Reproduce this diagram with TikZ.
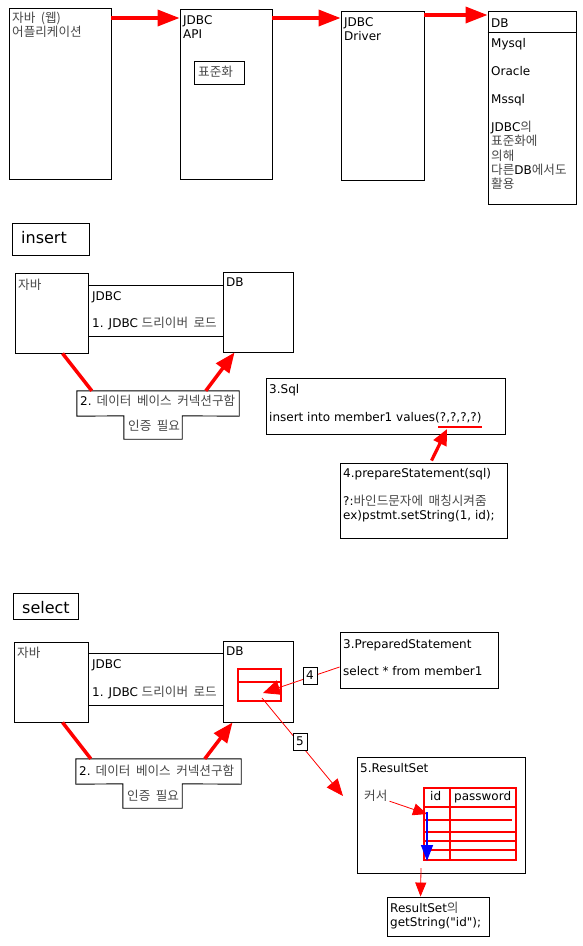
\documentclass[tikz,border=0pt]{standalone}
\usepackage{fontspec}
\setmainfont{DejaVu Sans}
\newfontfamily\krfont{Noto Sans CJK KR}
\newfontfamily\qfont[Ligatures=ResetAll]{DejaVu Sans}
\newcommand\K[1]{{\krfont\fontsize{12.6}{14}\selectfont\spaceskip=5.5pt\color{black!72}#1}}
\usetikzlibrary{arrows.meta,fit}
\begin{document}
\begin{tikzpicture}[x=1pt,y=-1pt,
  box/.style={draw=black, line width=0.9pt, inner sep=0pt},
  plain/.style={inner sep=0pt},
  blk/.style={draw=black, line width=0.9pt},
  txt/.style={anchor=base west, inner sep=0pt, font=\fontsize{12}{14}\selectfont},
  ttl/.style={anchor=base west, inner sep=0pt, font=\fontsize{16}{18}\selectfont},
  lbl/.style={draw=black, line width=0.9pt, fill=white, minimum width=14pt, minimum height=17pt, inner sep=0pt, font=\fontsize{12}{14}\selectfont},
  redbox/.style={draw=red, line width=1.2pt, inner sep=0pt},
  redline/.style={draw=red, line width=1.2pt},
  bigarrow/.style={draw=red, line width=3.5pt, -{Triangle[length=22pt,width=16pt]}},
  redthick/.style={draw=red, line width=3.5pt},
  redthin/.style={draw=red, line width=0.8pt},
]
\useasboundingbox (0,0) rectangle (583,946);

% ---------- top row ----------
\node[box, fit={(9,8)(111,179)}] (app) {};
\node[txt] (appt1) at (12,22) {\K{자바 (웹)}};
\node[txt] (appt2) at (12,36) {\K{어플리케이션}};

\node[box, fit={(180,9)(272,179)}] (api) {};
\node[txt] (apit1) at (183,24) {JDBC};
\node[txt] (apit2) at (183,38) {API};
\node[box, fit={(194,61)(244,84)}] (std) {};
\node[txt] (stdt) at (198,76) {\K{표준화}};

\node[box, fit={(341,11)(424,180)}] (drv) {};
\node[txt] (drvt1) at (344,26) {JDBC};
\node[txt] (drvt2) at (344,40) {Driver};

\node[box, fit={(488,11)(576,204)}] (db) {};
\draw[blk] (db.west |- 0,32) -- (db.east |- 0,32);
\node[txt] (dbt0) at (491,27) {DB};
\node[txt] (dbt1) at (491,47) {Mysql};
\node[txt] (dbt2) at (491,75) {Oracle};
\node[txt] (dbt3) at (491,103) {Mssql};
\node[txt] (dbt4) at (491,131) {JDBC\K{의}};
\node[txt] (dbt5) at (491,145.5) {\K{표준화에}};
\node[txt] (dbt6) at (491,160) {\K{의해}};
\node[txt] (dbt7) at (491,174) {\K{다른}DB\K{에서도}};
\node[txt] (dbt8) at (491,188.5) {\K{활용}};

\draw[bigarrow] (app.east |- 0,18) -- (api.west |- 0,18);
\draw[bigarrow] (api.east |- 0,18) -- (drv.west |- 0,18);
\draw[bigarrow] (drv.east |- 0,15) -- (db.west |- 0,15);

% ---------- insert ----------
\node[box, fit={(12,223)(89,255)}] (ins) {};
\node[ttl] (inst) at (21,243) {insert};

\node[box, fit={(15,273)(88,353)}] (ij) {};
\node[txt] (ijt) at (18,289) {\K{자바}};
\node[box, fit={(223,272)(293,352)}] (idb) {};
\node[txt] (idbt) at (226,286) {DB};
\draw[blk] (ij.east |- 0,285) -- (idb.west |- 0,285);
\draw[blk] (ij.east |- 0,336) -- (idb.west |- 0,336);
\node[txt] (ijdbc) at (92,300) {JDBC};
\node[txt] (iload) at (92,327) {1. JDBC \K{드리이버 로드}};

\node[plain, fit={(77,391)(239,416)}] (iw) {};
\node[plain, fit={(124,416)(182,439)}] (in) {};
\draw[blk] (iw.south west) -- (iw.north west) -- (iw.north east) -- (iw.south east)
  -- (in.north east) -- (in.south east) -- (in.south west) -- (in.north west) -- cycle;
\node[txt] (iwt) at (80,405) {2. \K{데이터 베이스 커넥션구함}};
\node[txt] (int) at (128,430) {\K{인증 필요}};
\draw[redthick] ([xshift=48pt]ij.south west) -- ([xshift=15pt]iw.north west);
\draw[bigarrow, -{Triangle[length=20pt,width=16pt]}] ([xshift=129pt]iw.north west) -- ([xshift=12pt]idb.south west);

\node[box, fit={(266,378)(505,434)}] (sql) {};
\node[txt] (sqlt1) at (269,393) {3.Sql};
\node[txt] (sqlt2) at (269,421) {insert into member1 values(?,?,?,?)};
\coordinate (ul1) at (438,427);
\coordinate (ul2) at (482,427);
\draw[draw=red, line width=2.5pt] (ul1) -- (ul2);
\coordinate (ultip) at (447,429);

\node[box, fit={(340,463)(507,538)}] (prep) {};
\node[txt] (prept1) at (343,477) {4.prepareStatement(sql)};
\node[txt] (prept2) at (343,505) {?:\K{바인드문자에 매칭시켜줌}};
\node[txt] (prept3) at (343,519) {ex)pstmt.setString(1, id);};
\draw[draw=red, line width=3.2pt, -{Triangle[length=16pt,width=14pt]}] ([xshift=92pt,yshift=2pt]prep.north west) -- (ultip);

% ---------- select ----------
\node[box, fit={(13,593)(78,619)}] (sel) {};
\node[ttl] (selt) at (22,613) {select};

\node[box, fit={(14,642)(88,722)}] (sj) {};
\node[txt] (sjt) at (17,657) {\K{자바}};
\node[box, fit={(223,641)(293,722)}] (sdb) {};
\node[txt] (sdbt) at (226,655) {DB};
\draw[blk] (sj.east |- 0,653) -- (sdb.west |- 0,653);
\draw[blk] (sj.east |- 0,705) -- (sdb.west |- 0,705);
\node[txt] (sjdbc) at (92,668) {JDBC};
\node[txt] (sload) at (92,696) {1. JDBC \K{드리이버 로드}};

\node[plain, fit={(76,759)(241,784)}] (sw) {};
\node[plain, fit={(123,784)(182,808)}] (sn) {};
\draw[blk] (sw.south west) -- (sw.north west) -- (sw.north east) -- (sw.south east)
  -- (sn.north east) -- (sn.south east) -- (sn.south west) -- (sn.north west) -- cycle;
\node[txt] (swt) at (79,775) {2. \K{데이터 베이스 커넥션구함}};
\node[txt] (snt) at (127,800) {\K{인증 필요}};
\draw[redthick] ([xshift=49pt]sj.south west) -- ([xshift=15pt]sw.north west);
\draw[bigarrow, -{Triangle[length=20pt,width=16pt]}] ([xshift=129pt]sw.north west) -- ([xshift=10pt]sdb.south west);

\node[redbox, fit={(238,669)(281,701)}] (stbl) {};
\draw[redline] (stbl.west |- 0,682) -- (stbl.east |- 0,682);

\node[box, fit={(340,632)(498,688)}] (ps) {};
\node[txt] (pst1) at (343,648) {3.PreparedStatement};
\node[txt] (pst2) at (343,675) {select * from member1};

\coordinate (t4) at (263,693);
\draw[redthin, -{Triangle[length=17pt,width=15pt]}] (ps.west |- 0,667) -- (t4);
\node[lbl] (l4) at (310,675.5) {4};

\coordinate (s5) at (262,698);
\coordinate (t5) at (343,796);
\draw[redthin, -{Triangle[length=17pt,width=14pt]}] (s5) -- (t5);
\node[lbl] (l5) at (300,741.5) {5};

\node[box, fit={(357,757)(525,873)}] (rs) {};
\node[txt] (rst) at (360,772) {5.ResultSet};
\node[redbox, fit={(424,788)(516,860)}] (rtbl) {};
\draw[redline] (450,788) -- (450,860);
\draw[redline] (424,807) -- (517,807);
\draw[redline] (424,820) -- (512,820);
\draw[redline] (424,832) -- (516,832);
\draw[redline] (424,841) -- (516,841);
\draw[redline] (424,850) -- (516,850);
\node[txt] (rid) at (430,800) {id};
\node[txt] (rpw) at (454,800) {password};
\node[txt] (cur) at (364,800) {\K{커서}};
\coordinate (curtip) at (427,814);
\draw[redthin, -{Triangle[length=14pt,width=12pt]}] ([xshift=2pt]cur.south east) -- (curtip);
\coordinate (bl1) at (427,812);
\coordinate (bl2) at (427,861);
\draw[draw=blue, line width=1.5pt, -{Triangle[length=16pt,width=12pt]}] (bl1) -- (bl2);

\node[box, fit={(387,897)(489,936)}] (gs) {};
\node[txt] (gst1) at (390,912) {ResultSet\K{의}};
\node[txt] (gst2) at (390,926) {\qfont getString("id");};
\coordinate (gsstart) at (421,868);
\draw[redthin, -{Triangle[length=14pt,width=11pt]}] (gsstart) -- ([xshift=34pt]gs.north west);
\end{tikzpicture}
\end{document}
